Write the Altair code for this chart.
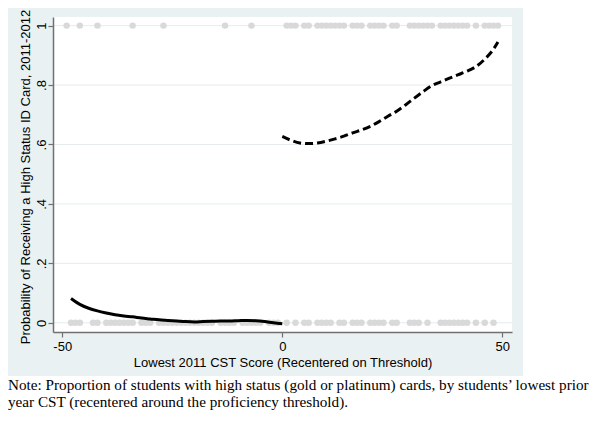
import altair as alt
import pandas as pd

# ---- data ----
top_x = [-49, -46, -42, -34, -27, -13, -7,
         1, 2, 3, 5, 6, 8, 9, 10, 11, 12, 13, 14, 16, 17, 18, 20, 21, 22, 23,
         25, 26, 29, 30, 31, 32, 33, 34, 36, 37, 38, 39, 40, 41, 42, 44,
         46, 47, 48, 49]
bottom_x = [-48, -47, -46, -43, -42, -40, -39, -38, -37, -36, -35, -34,
            -32, -31, -30, -28, -27, -26, -25, -24, -23, -22, -21, -20, -19,
            -18, -17, -16, -14, -13, -12, -11, -9, -8, -7, -6, -5, -3, -2, -1,
            1, 3, 5, 6, 8, 9, 10, 11, 13, 14, 16, 17, 18, 20, 21, 22, 23,
            25, 26, 29, 30, 31, 33, 36, 37, 38, 39, 40, 41, 42, 44, 46, 48]

left_x = [-48, -46, -44, -42, -40, -38, -36, -34, -32, -30, -28, -26, -24,
          -22, -20, -18, -16, -14, -12, -10, -8, -6, -4, -2, 0]
left_y = [0.082, 0.062, 0.049, 0.040, 0.033, 0.027, 0.023, 0.020, 0.016,
          0.013, 0.010, 0.008, 0.006, 0.004, 0.003, 0.004, 0.005, 0.006,
          0.006, 0.007, 0.008, 0.007, 0.004, 0.000, -0.003]

right_x = [0, 2, 4, 6, 8, 10, 12, 14, 16, 18, 20, 22, 24, 26, 28, 30, 32,
           34, 36, 38, 40, 42, 44, 46, 48, 49]
right_y = [0.627, 0.614, 0.605, 0.603, 0.605, 0.611, 0.619, 0.628, 0.639,
           0.649, 0.661, 0.677, 0.695, 0.712, 0.733, 0.756, 0.778, 0.798,
           0.811, 0.823, 0.835, 0.847, 0.862, 0.887, 0.921, 0.945]

y_ticks = [0, 0.2, 0.4, 0.6, 0.8, 1]
x_ticks = [-50, 0, 50]

x_title = "Lowest 2011 CST Score (Recentered on Threshold)"
y_title = "Probability of Receiving a High Status ID Card, 2011-2012"
note_lines = [
    "Note: Proportion of students with high status (gold or platinum) cards, by students\u2019 lowest prior",
    "year CST (recentered around the proficiency threshold).",
]

W, H = 459, 315
FONT = "Liberation Sans"

pts = pd.DataFrame({
    "x": top_x + bottom_x,
    "y": [1] * len(top_x) + [0] * len(bottom_x),
})
left = pd.DataFrame({"x": left_x, "y": left_y})
right = pd.DataFrame({"x": right_x, "y": right_y})
grid = pd.DataFrame({"v": y_ticks})
one = pd.DataFrame({"k": [0]})

xscale = alt.Scale(domain=[-52.1, 52.2], nice=False, zero=False)
yscale = alt.Scale(domain=[-0.031, 1.029], nice=False, zero=False)

xaxis = alt.Axis(values=x_ticks, labelExpr="'' + datum.value", grid=False,
                 title=x_title, zindex=1, titleY=34, titleBaseline="alphabetic",
                 labelPadding=3)
yaxis = alt.Axis(values=y_ticks,
                 labelExpr="datum.value == 0 ? '0' : datum.value == 1 ? '1' : replace(format(datum.value, '.1f'), '0.', '.')",
                 grid=False, title=y_title, zindex=1, labelAngle=270,
                 labelAlign="center", labelBaseline="alphabetic", labelPadding=3,
                 titleX=-21, titleY=H / 2 + 2, titleAngle=270, titleBaseline="bottom",
                 titleAlign="center", titleFontSize=13)

frame = alt.Chart(one).mark_rect(color="#eaf1f3").encode(
    x=alt.value(-45), x2=alt.value(470), y=alt.value(-9), y2=alt.value(359))
plotbg = alt.Chart(one).mark_rect(color="white").encode(
    x=alt.value(0), x2=alt.value(W), y=alt.value(0), y2=alt.value(H))
gridlines = alt.Chart(grid).mark_rule(color="#e4ecee", strokeWidth=1).encode(
    y=alt.Y("v:Q", scale=yscale, axis=yaxis), x=alt.value(0), x2=alt.value(W))
points = alt.Chart(pts).mark_circle(size=42, color="#d9d9d9", opacity=1).encode(
    x=alt.X("x:Q", scale=xscale, axis=xaxis),
    y=alt.Y("y:Q", scale=yscale, axis=yaxis))
left_line = alt.Chart(left).mark_line(color="black", strokeWidth=3,
                                      interpolate="monotone").encode(
    x=alt.X("x:Q", scale=xscale), y=alt.Y("y:Q", scale=yscale))
right_line = alt.Chart(right).mark_line(color="black", strokeWidth=3,
                                        strokeDash=[8, 4], strokeCap="butt",
                                        interpolate="monotone").encode(
    x=alt.X("x:Q", scale=xscale), y=alt.Y("y:Q", scale=yscale))
note = alt.Chart(one).mark_text(text=note_lines, align="left", baseline="alphabetic",
                                font="Liberation Serif", fontSize=15.2,
                                lineHeight=17, color="black").encode(
    x=alt.value(-45), y=alt.value(373))

chart = alt.layer(frame, plotbg, gridlines, points, left_line, right_line, note).properties(
    width=W, height=H,
    autosize=alt.AutoSizeParams(type="none"),
    padding={"left": 45, "top": 9, "right": 80, "bottom": 82},
    background="white",
).configure_view(stroke=None).configure_axis(
    domainColor="#707070", domainWidth=1.5, tickColor="#707070", tickWidth=1.2,
    tickSize=5, labelFont=FONT, labelFontSize=13, labelColor="black",
    titleFont=FONT, titleFontSize=13, titleFontWeight="normal", titleColor="black",
)

chart.save("out.html", embed_options={"renderer": "svg", "actions": False})
